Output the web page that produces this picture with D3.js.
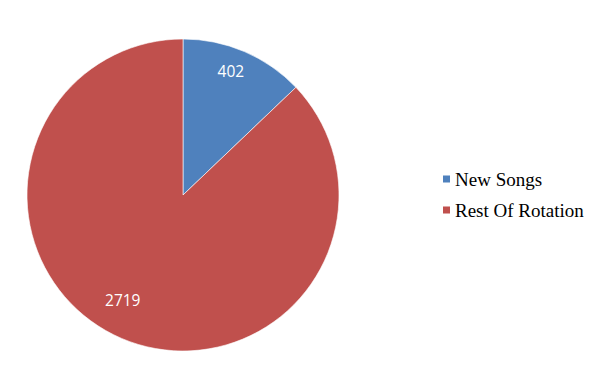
<!DOCTYPE html>
<html>
<head>
<meta charset="utf-8">
<script src="https://cdn.jsdelivr.net/npm/d3@7"></script>
<style>
  body { margin: 0; background: #fff; }
  svg { display: block; }
</style>
</head>
<body>
<script>
// data
var categories = ["New Songs", "Rest Of Rotation"];
var values = [402, 2719];
var colors = ["#4F81BD", "#C0504D"];

var width = 603, height = 381;
var cx = 183, cy = 195, radius = 156;

var svg = d3.select("body").append("svg")
  .attr("width", width)
  .attr("height", height);

var pie = d3.pie().sort(null).value(function(d) { return d; });
var arc = d3.arc().innerRadius(0).outerRadius(radius);

var g = svg.append("g").attr("transform", "translate(" + cx + "," + cy + ")");
var arcs = pie(values);

g.selectAll("path.slice")
  .data(arcs)
  .enter().append("path")
  .attr("class", "slice")
  .attr("d", arc)
  .attr("fill", function(d, i) { return colors[i]; })
  .attr("stroke", "#fff")
  .attr("stroke-width", 0.6);

// data labels (excel-ish placement: radius ratio + small angle shift)
var labelR = [0.85, 0.78];
var labelShift = [-2, 6.5];
g.selectAll("text.lbl")
  .data(arcs)
  .enter().append("text")
  .attr("class", "lbl")
  .attr("transform", function(d, i) {
    var a = (d.startAngle + d.endAngle) / 2 + labelShift[i] * Math.PI / 180;
    var r = radius * labelR[i];
    return "translate(" + (r * Math.sin(a)) + "," + (-r * Math.cos(a)) + ")";
  })
  .attr("text-anchor", "middle")
  .attr("dy", "0.35em")
  .attr("fill", "#fff")
  .style("font-family", "'Open Sans', 'Liberation Sans', sans-serif")
  .style("font-size", "15.5px")
  .text(function(d) { return d.data; });

// legend
var legend = svg.append("g").attr("transform", "translate(443,179)");
var item = legend.selectAll("g")
  .data(categories)
  .enter().append("g")
  .attr("transform", function(d, i) { return "translate(0," + (i * 31) + ")"; });

item.append("rect")
  .attr("x", 0).attr("y", -3.5)
  .attr("width", 7).attr("height", 7)
  .attr("fill", function(d, i) { return colors[i]; });

item.append("text")
  .attr("x", 12)
  .attr("dy", "0.35em")
  .attr("fill", "#000")
  .style("font-family", "'Liberation Serif', 'DejaVu Serif', serif")
  .style("font-size", "19px")
  .text(function(d) { return d; });
</script>
</body>
</html>
